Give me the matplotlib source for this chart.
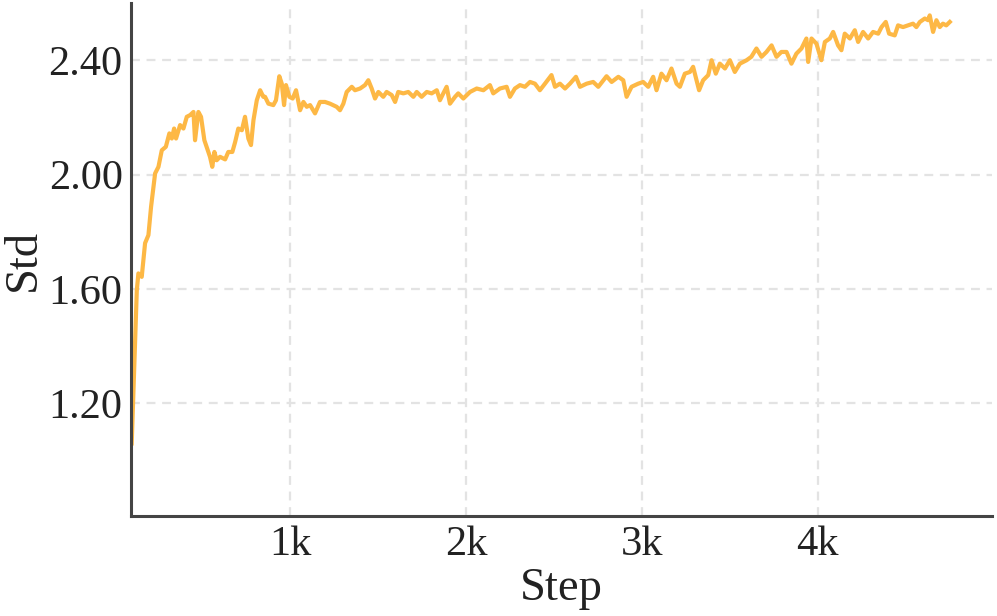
import numpy as np
import matplotlib
matplotlib.use('Agg')
import matplotlib.pyplot as plt
from matplotlib.ticker import FuncFormatter, FormatStrFormatter

plt.rcParams['font.family'] = ['Liberation Serif', 'DejaVu Serif']

step = [100, 129, 138, 157, 176, 195, 210, 233, 252, 271, 294, 314, 328, 341, 352, 375, 394, 413, 432, 451,
        460, 479, 494, 513, 532, 545, 558, 570, 583, 602, 631, 649, 672, 688, 706, 726, 744, 763, 778, 792,
        811, 830, 848, 858, 877, 905, 920, 939, 953, 966, 977, 996, 1015, 1034, 1057, 1076, 1095, 1114, 1142,
        1170, 1199, 1227, 1265, 1284, 1303, 1322, 1351, 1369, 1398, 1426, 1445, 1464, 1483, 1502, 1530, 1549,
        1578, 1597, 1615, 1644, 1672, 1701, 1720, 1748, 1777, 1805, 1834, 1852, 1871, 1890, 1909, 1938, 1956,
        1985, 2023, 2061, 2099, 2136, 2155, 2193, 2231, 2250, 2278, 2307, 2335, 2364, 2392, 2420, 2449, 2486,
        2506, 2534, 2563, 2591, 2625, 2648, 2686, 2723, 2752, 2799, 2828, 2866, 2894, 2913, 2941, 2979, 3007,
        3036, 3064, 3083, 3111, 3140, 3168, 3197, 3216, 3244, 3273, 3291, 3325, 3348, 3377, 3396, 3420, 3443,
        3472, 3500, 3528, 3557, 3595, 3622, 3651, 3680, 3708, 3737, 3765, 3793, 3822, 3850, 3878, 3907, 3935,
        3945, 3964, 3992, 4020, 4040, 4068, 4087, 4115, 4134, 4153, 4182, 4210, 4229, 4257, 4286, 4314, 4343,
        4362, 4386, 4405, 4437, 4456, 4484, 4513, 4541, 4560, 4580, 4608, 4627, 4636, 4655, 4674, 4693, 4711,
        4730, 4750]
std = [1.059, 1.595, 1.654, 1.642, 1.760, 1.788, 1.887, 2.004, 2.027, 2.085, 2.097, 2.144, 2.126, 2.161,
       2.126, 2.173, 2.161, 2.202, 2.208, 2.219, 2.120, 2.219, 2.202, 2.120, 2.085, 2.062, 2.027, 2.079,
       2.050, 2.062, 2.053, 2.079, 2.079, 2.114, 2.161, 2.155, 2.202, 2.126, 2.103, 2.190, 2.260, 2.295,
       2.272, 2.272, 2.248, 2.243, 2.260, 2.344, 2.318, 2.243, 2.313, 2.272, 2.266, 2.295, 2.225, 2.254,
       2.237, 2.243, 2.214, 2.254, 2.254, 2.248, 2.237, 2.225, 2.248, 2.289, 2.307, 2.295, 2.301, 2.313,
       2.330, 2.301, 2.266, 2.289, 2.272, 2.289, 2.278, 2.254, 2.289, 2.284, 2.289, 2.272, 2.289, 2.272,
       2.289, 2.284, 2.295, 2.260, 2.284, 2.307, 2.248, 2.272, 2.284, 2.266, 2.289, 2.301, 2.295, 2.313,
       2.284, 2.301, 2.307, 2.272, 2.301, 2.313, 2.307, 2.324, 2.318, 2.295, 2.318, 2.348, 2.307, 2.318,
       2.301, 2.318, 2.342, 2.307, 2.318, 2.324, 2.307, 2.344, 2.324, 2.342, 2.330, 2.272, 2.307, 2.318,
       2.324, 2.307, 2.342, 2.295, 2.353, 2.330, 2.371, 2.318, 2.307, 2.353, 2.359, 2.377, 2.295, 2.330,
       2.348, 2.400, 2.353, 2.388, 2.371, 2.400, 2.359, 2.388, 2.400, 2.412, 2.441, 2.412, 2.429, 2.452,
       2.412, 2.429, 2.429, 2.388, 2.423, 2.441, 2.476, 2.394, 2.476, 2.458, 2.400, 2.464, 2.476, 2.499,
       2.452, 2.435, 2.493, 2.476, 2.505, 2.464, 2.499, 2.476, 2.499, 2.493, 2.516, 2.534, 2.493, 2.487,
       2.522, 2.516, 2.522, 2.528, 2.516, 2.534, 2.546, 2.540, 2.557, 2.499, 2.540, 2.516, 2.528, 2.522,
       2.534]
yticks = [1.20, 1.60, 2.00, 2.40]
xticks = [1000, 2000, 3000, 4000]

fig = plt.figure(figsize=(9.97, 6.16), dpi=100)
ax = fig.add_axes([0.1314, 0.1623, 0.8636, 0.8327])

ax.plot(step, std, color='#FDB845', lw=3.0, solid_joinstyle='round')

ax.set_xlim(96, 4990)
ax.set_ylim(0.805, 2.60)
ax.set_xticks(xticks)
ax.set_yticks(yticks)
ax.xaxis.set_major_formatter(FuncFormatter(lambda v, p: '%dk' % (v // 1000)))
ax.yaxis.set_major_formatter(FormatStrFormatter('%.2f'))
ax.tick_params(length=0, labelsize=30.5, colors='#222222')
ax.tick_params(axis='y', pad=6)
ax.tick_params(axis='x', pad=7)

ax.grid(True, ls=(0, (4, 3)), color='#e3e3e3', lw=1.6)
ax.set_axisbelow(True)
for s in ['top', 'right']:
    ax.spines[s].set_visible(False)
for s in ['left', 'bottom']:
    ax.spines[s].set_color('#444444')
    ax.spines[s].set_linewidth(2.2)

ax.set_xlabel('Step', fontsize=33.5, color='#222222', labelpad=2)
ax.set_ylabel('Std', fontsize=33.5, color='#222222', labelpad=3)

fig.savefig('out.png', dpi=100)
